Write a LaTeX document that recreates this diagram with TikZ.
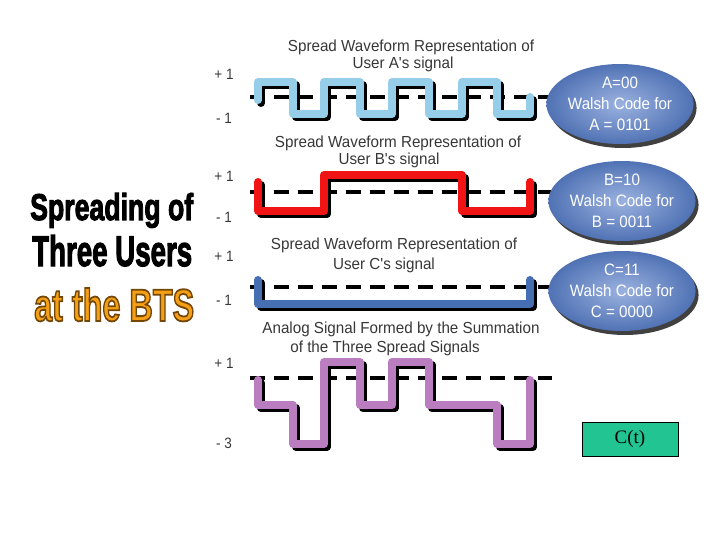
\documentclass[tikz,border=0pt]{standalone}
\usepackage{fontspec}
\usepackage{graphicx}
\usetikzlibrary{shapes.geometric,shadows}
\newfontfamily\ttlfont[FakeStretch=0.95]{Liberation Sans}
\newfontfamily\elfont[FakeStretch=0.92]{Liberation Sans}
\newfontfamily\lvlfont[FakeStretch=0.9]{Liberation Sans}
\newfontfamily\heavyfont[FakeBold=3]{Liberation Sans}
\newfontfamily\btsfont[FakeBold=4]{Liberation Sans}
\newfontfamily\tmsfont{Liberation Serif}
\definecolor{waveA}{RGB}{150,205,232}
\definecolor{waveB}{RGB}{240,20,20}
\definecolor{waveC}{RGB}{70,110,178}
\definecolor{waveS}{RGB}{185,125,192}
\definecolor{txtgray}{RGB}{55,55,55}
\definecolor{ellin}{RGB}{155,178,224}
\definecolor{ellout}{RGB}{80,114,180}
\definecolor{boxgreen}{RGB}{34,196,146}
\definecolor{btsorange}{RGB}{245,160,20}
\begin{document}
\begin{tikzpicture}[x=1pt,y=-1pt,
  wv/.style={line width=8pt, line join=round, line cap=round},
  shd/.style={wv, black, shift={(3,3)}},
  basel/.style={line width=4pt, black, dash pattern=on 15pt off 9pt},
  lvl/.style={font=\lvlfont\fontsize{15}{17}\selectfont, text=txtgray, inner sep=0},
  ttl/.style={font=\ttlfont\fontsize{16}{18}\selectfont, text=txtgray, inner sep=0},
  wal/.style={ellipse, minimum width=134pt, minimum height=80pt, inner sep=0,
    inner color=ellin, outer color=ellout, text=white, align=center,
    font=\elfont\fontsize{16.5}{21}\selectfont,
    drop shadow={shadow xshift=3pt, shadow yshift=-4pt, opacity=0.75, fill=black}},
  big/.style={anchor=base west, inner sep=0}
]
\useasboundingbox (0,0) rectangle (720,540);

% ---------- left title ----------
\node[big] (h1) at (30,220) {\resizebox{163pt}{27pt}{\heavyfont\bfseries Spreading of}};
\node[big] (h2) at (32,266) {\resizebox{160pt}{31pt}{\heavyfont\bfseries Three Users}};
\node[big] (h3) at (34,321) {\resizebox{160pt}{33pt}{\color{btsorange}\special{pdf:literal direct 0.45 0.28 0.03 RG}\btsfont\bfseries at the BTS}};

% ---------- baselines ----------
\draw[basel] (250,97) -- (552,97);
\draw[basel] (250,192) -- (552,192);
\draw[basel] (250,287) -- (552,287);
\draw[basel] (250,378) -- (552,378);

% ---------- wave A ----------
\def\pathA{(258,100) -- (258,82) -- (293,82) -- (293,114) -- (324,114) -- (324,82) -- (360,82) -- (360,114) -- (392,114) -- (392,82) -- (429,82) -- (429,114) -- (462,114) -- (462,82) -- (497,82) -- (497,114) -- (530,114) -- (530,97)}
\draw[shd] \pathA;
\draw[wv, waveA] \pathA;

% ---------- wave B ----------
\def\pathB{(258,182) -- (258,211) -- (324,211) -- (324,175) -- (462,175) -- (462,211) -- (530,211) -- (530,182)}
\draw[shd] \pathB;
\draw[wv, waveB] \pathB;

% ---------- wave C ----------
\def\pathC{(258,280) -- (258,304) -- (530,304) -- (530,280)}
\draw[shd] \pathC;
\draw[wv, waveC] \pathC;

% ---------- sum ----------
\def\pathS{(258,380) -- (258,405) -- (293,405) -- (293,444) -- (324,444) -- (324,362) -- (360,362) -- (360,405) -- (392,405) -- (392,362) -- (429,362) -- (429,405) -- (497,405) -- (497,444) -- (530,444) -- (530,380)}
\draw[shd] \pathS;
\draw[wv, waveS] \pathS;

% ---------- titles ----------
\node[ttl] (tA1) at (411,47) {Spread Waveform Representation of};
\node[ttl] (tA2) at (403,64) {User A's signal};
\node[ttl] (tB1) at (398,143) {Spread Waveform Representation of};
\node[ttl] (tB2) at (389,160) {User B's signal};
\node[ttl] (tC1) at (394,245) {Spread Waveform Representation of};
\node[ttl] (tC2) at (384,265) {User C's signal};
\node[ttl] (tS1) at (401,329) {Analog Signal Formed by the Summation};
\node[ttl] (tS2) at (385,348) {of the Three Spread Signals};

% ---------- level labels ----------
\node[lvl] (lA1) at (224,74) {+ 1};
\node[lvl] (lA2) at (224,118) {- 1};
\node[lvl] (lB1) at (224,176) {+ 1};
\node[lvl] (lB2) at (224,217) {- 1};
\node[lvl] (lC1) at (224,256) {+ 1};
\node[lvl] (lC2) at (224,300) {- 1};
\node[lvl] (lS1) at (224,363) {+ 1};
\node[lvl] (lS2) at (224,443) {- 3};

% ---------- Walsh ellipses ----------
\node[wal] (eA) at (620,104) {A=00\\Walsh Code for\\A = 0101};
\node[wal] (eB) at (622,201) {B=10\\Walsh Code for\\B = 0011};
\node[wal] (eC) at (622,291) {C=11\\Walsh Code for\\C = 0000};

% ---------- C(t) box ----------
\node[draw=black, line width=0.8pt, fill=boxgreen, minimum width=96pt, minimum height=34pt,
  font=\tmsfont\fontsize{19}{21}\selectfont] (ct) at (630,439) {C(t)};
\end{tikzpicture}
\end{document}
